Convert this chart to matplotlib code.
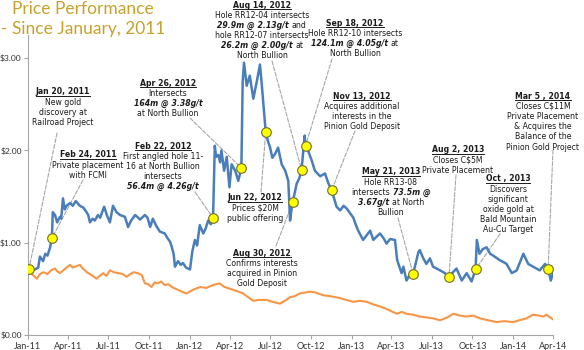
import matplotlib
matplotlib.use("Agg")
import matplotlib.pyplot as plt
import matplotlib.dates as mdates
from matplotlib.transforms import IdentityTransform
from matplotlib.lines import Line2D
import pandas as pd

# share price (blue line)
price_dates = [
    "2011-01-03", "2011-01-17", "2011-01-24", "2011-01-28", "2011-02-04", "2011-02-09", "2011-02-14",
    "2011-02-20", "2011-02-24", "2011-02-26", "2011-03-03", "2011-03-08", "2011-03-14", "2011-03-17",
    "2011-03-21", "2011-03-25", "2011-03-29", "2011-04-06", "2011-04-12", "2011-04-19", "2011-04-28",
    "2011-05-06", "2011-05-12", "2011-05-17", "2011-05-21", "2011-05-27", "2011-06-01", "2011-06-08",
    "2011-06-13", "2011-06-22", "2011-06-28", "2011-07-05", "2011-07-12", "2011-07-20", "2011-07-28",
    "2011-08-08", "2011-08-15", "2011-08-22", "2011-08-31", "2011-09-05", "2011-09-11", "2011-09-22",
    "2011-09-28", "2011-10-04", "2011-10-10", "2011-10-18", "2011-10-26", "2011-11-06", "2011-11-12",
    "2011-11-18", "2011-11-22", "2011-11-26", "2011-11-29", "2011-12-06", "2011-12-12", "2011-12-17",
    "2011-12-24", "2012-01-02", "2012-01-07", "2012-01-13", "2012-01-18", "2012-01-24", "2012-02-01",
    "2012-02-06", "2012-02-12", "2012-02-18", "2012-02-23", "2012-02-27", "2012-03-01", "2012-03-06",
    "2012-03-10", "2012-03-13", "2012-03-19", "2012-03-25", "2012-03-31", "2012-04-05", "2012-04-13",
    "2012-04-20", "2012-04-27", "2012-04-30", "2012-05-03", "2012-05-09", "2012-05-16", "2012-05-24",
    "2012-06-01", "2012-06-08", "2012-06-12", "2012-06-21", "2012-06-26", "2012-07-01", "2012-07-06",
    "2012-07-12", "2012-07-19", "2012-07-27", "2012-08-04", "2012-08-11", "2012-08-15", "2012-08-18",
    "2012-08-21", "2012-08-30", "2012-09-05", "2012-09-10", "2012-09-17", "2012-09-19", "2012-09-26",
    "2012-10-03", "2012-10-10", "2012-10-22", "2012-11-02", "2012-11-09", "2012-11-17", "2012-11-28",
    "2012-12-06", "2012-12-14", "2012-12-21", "2013-01-05", "2013-01-10", "2013-01-16", "2013-01-27",
    "2013-02-04", "2013-02-12", "2013-02-19", "2013-03-06", "2013-03-14", "2013-03-21", "2013-03-29",
    "2013-04-09", "2013-04-14", "2013-04-24", "2013-04-28", "2013-05-05", "2013-05-12", "2013-05-20",
    "2013-06-01", "2013-06-04", "2013-06-12", "2013-06-19", "2013-06-27", "2013-07-04", "2013-07-12",
    "2013-07-20", "2013-07-31", "2013-08-09", "2013-08-18", "2013-08-26", "2013-09-07", "2013-09-18",
    "2013-09-29", "2013-10-08", "2013-10-11", "2013-10-17", "2013-10-24", "2013-11-02", "2013-11-10",
    "2013-11-17", "2013-12-02", "2013-12-10", "2013-12-17", "2013-12-29", "2014-01-09", "2014-01-24",
    "2014-02-04", "2014-02-15", "2014-03-02", "2014-03-14", "2014-03-21", "2014-03-27", "2014-04-01",
]
price_vals = [
    0.71, 0.71, 0.73, 0.85, 0.80, 0.88, 0.86,
    0.95, 1.05, 1.33, 1.30, 1.22, 1.28, 1.26,
    1.48, 1.36, 1.40, 1.43, 1.40, 1.45, 1.40,
    1.38, 1.34, 1.30, 1.22, 1.26, 1.24, 1.30,
    1.27, 1.39, 1.30, 1.22, 1.40, 1.33, 1.30,
    1.28, 1.17, 1.24, 1.30, 1.28, 1.25, 1.30,
    1.27, 1.17, 1.26, 1.18, 1.12, 1.10, 1.05,
    1.01, 0.95, 0.88, 0.74, 0.80, 0.76, 0.78,
    0.73, 0.71, 0.90, 1.03, 0.97, 1.19, 1.10,
    1.15, 1.24, 1.20, 1.27, 2.05, 1.93, 1.95,
    1.87, 2.00, 1.78, 1.93, 1.60, 1.85, 1.78,
    1.67, 1.81, 2.75, 2.95, 2.70, 2.81, 2.56,
    2.75, 2.93, 2.72, 2.20, 2.10, 2.03, 1.92,
    1.96, 2.03, 1.85, 1.78, 1.67, 1.24, 1.35,
    1.44, 1.64, 1.70, 1.79, 2.16, 2.05, 1.98,
    1.89, 1.78, 1.72, 1.75, 1.65, 1.57, 1.39,
    1.35, 1.40, 1.37, 1.27, 1.20, 1.13, 1.03,
    1.08, 1.13, 1.03, 1.10, 1.05, 0.99, 1.04,
    1.03, 0.81, 0.67, 0.74, 0.59, 0.65, 0.66,
    0.90, 0.92, 0.83, 0.77, 0.83, 0.74, 0.72,
    0.70, 0.67, 0.63, 0.68, 0.72, 0.59, 0.67,
    0.58, 0.71, 1.03, 0.88, 0.93, 0.95, 0.88,
    0.86, 0.81, 0.79, 0.77, 0.67, 0.70, 0.88,
    0.77, 0.74, 0.70, 0.77, 0.72, 0.59, 0.67,
]

# comparison index (orange line)
index_dates = [
    "2011-01-03", "2011-01-10", "2011-01-21", "2011-01-28", "2011-02-05", "2011-02-14", "2011-02-22",
    "2011-03-03", "2011-03-08", "2011-03-14", "2011-03-24", "2011-04-06", "2011-04-12", "2011-04-17",
    "2011-04-28", "2011-05-05", "2011-05-14", "2011-05-24", "2011-06-05", "2011-06-12", "2011-06-20",
    "2011-06-27", "2011-07-05", "2011-07-14", "2011-07-24", "2011-08-03", "2011-08-12", "2011-08-20",
    "2011-08-27", "2011-09-06", "2011-09-15", "2011-09-22", "2011-09-30", "2011-10-07", "2011-10-14",
    "2011-10-22", "2011-10-29", "2011-11-06", "2011-11-14", "2011-11-22", "2011-12-01", "2011-12-14",
    "2011-12-25", "2012-01-09", "2012-01-25", "2012-02-08", "2012-02-22", "2012-03-08", "2012-03-20",
    "2012-04-08", "2012-04-20", "2012-05-01", "2012-05-12", "2012-05-24", "2012-06-05", "2012-06-23",
    "2012-07-06", "2012-07-23", "2012-08-03", "2012-08-15", "2012-08-25", "2012-09-06", "2012-09-18",
    "2012-09-29", "2012-10-12", "2012-10-29", "2012-11-15", "2012-12-06", "2012-12-20", "2013-01-05",
    "2013-01-20", "2013-02-04", "2013-02-20", "2013-03-06", "2013-03-22", "2013-04-13", "2013-04-25",
    "2013-05-05", "2013-05-20", "2013-06-04", "2013-06-20", "2013-07-04", "2013-07-20", "2013-08-05",
    "2013-08-19", "2013-09-03", "2013-09-18", "2013-10-03", "2013-10-18", "2013-11-05", "2013-11-25",
    "2013-12-12", "2014-01-01", "2014-01-15", "2014-01-31", "2014-02-15", "2014-02-28", "2014-03-10",
    "2014-03-17", "2014-04-01",
]
index_vals = [
    0.71, 0.66, 0.61, 0.66, 0.68, 0.66, 0.70,
    0.72, 0.69, 0.67, 0.71, 0.76, 0.73, 0.74,
    0.76, 0.72, 0.68, 0.65, 0.61, 0.64, 0.67,
    0.64, 0.70, 0.68, 0.67, 0.66, 0.63, 0.66,
    0.68, 0.67, 0.65, 0.56, 0.55, 0.52, 0.57,
    0.56, 0.58, 0.54, 0.55, 0.52, 0.50, 0.47,
    0.45, 0.49, 0.52, 0.51, 0.54, 0.56, 0.52,
    0.49, 0.47, 0.45, 0.41, 0.37, 0.38, 0.38,
    0.36, 0.34, 0.37, 0.41, 0.42, 0.45, 0.46,
    0.47, 0.46, 0.43, 0.42, 0.40, 0.38, 0.36,
    0.37, 0.36, 0.33, 0.31, 0.28, 0.23, 0.25,
    0.23, 0.22, 0.20, 0.19, 0.18, 0.16, 0.19,
    0.23, 0.21, 0.20, 0.21, 0.18, 0.16, 0.14,
    0.15, 0.14, 0.16, 0.18, 0.22, 0.21, 0.20,
    0.22, 0.17,
]

# news events: where the yellow dots sit on the price line
event_dates = ["2011-01-03", "2011-02-24", "2012-02-23", "2012-04-27", "2012-06-21", "2012-09-10",
               "2012-08-21", "2012-09-19", "2012-11-17", "2013-05-20", "2013-08-09", "2013-10-08",
               "2014-03-21"]
event_vals = [0.71, 1.05, 1.27, 1.81, 2.20, 1.79, 1.44, 2.05, 1.57, 0.66, 0.63, 0.71, 0.72]

y_ticks = [0, 1, 2, 3]

W, H = 584, 350
fig = plt.figure(figsize=(W / 100, H / 100), dpi=100)
ax = fig.add_axes([28 / W, 15 / H, 525 / W, 300 / H])

ax.plot(pd.to_datetime(index_dates), index_vals, color='#F79646', lw=1.5, zorder=2)
ax.plot(pd.to_datetime(price_dates), price_vals, color='#4A7EBB', lw=1.8, zorder=3)
ax.scatter(pd.to_datetime(event_dates), event_vals, s=48, color='#FFFF00',
           edgecolor='#6E6E30', linewidth=0.8, zorder=5)

ax.set_xlim(pd.Timestamp("2011-01-01"), pd.Timestamp("2014-04-01"))
ax.set_ylim(0, 3.25)
ax.set_xticks(pd.date_range("2011-01-01", "2014-04-01", freq="3MS"))
ax.xaxis.set_major_formatter(mdates.DateFormatter("%b-%y"))
ax.set_yticks(y_ticks)
ax.yaxis.set_major_formatter(plt.FuncFormatter(lambda v, p: r"\$%.2f" % v))
for s in ['top', 'right']:
    ax.spines[s].set_visible(False)
for s in ['left', 'bottom']:
    ax.spines[s].set_color('#A6A6A6')
ax.tick_params(colors='#A6A6A6', length=3, width=0.8, labelcolor='#333333', labelsize=6.5, pad=2)
ax.tick_params(axis='y', labelsize=6.1, pad=1.5)
for lab in ax.get_xticklabels() + ax.get_yticklabels():
    lab.set_family('Lato')

# title
gold = '#C6A22C'
ident = IdentityTransform()
fig.text(12, H - 9, "Price Performance", transform=ident, ha='left', va='center',
         fontsize=12.5, family='Lato', color=gold)
fig.text(1, H - 29, "- Since January, 2011", transform=ident, ha='left', va='center',
         fontsize=12.5, family='Lato', color=gold)

# annotation blocks: centre x, header y (pixels from top), header, lines, leader start, event
blocks = [
    (63, 92, "Jan 20, 2011", [["New gold"], ["discovery at"], ["Railroad Project"]], (57, 133), 0),
    (88, 155, "Feb 24, 2011", [["Private placement"], ["with FCMI"]], (83, 180), 1),
    (163, 146, "Feb 22, 2012", [["First angled hole 11-"], ["16 at North Bullion"], ["intersects"],
                                [("56.4m @ 4.26g/t", 'bi')]], (195, 192), 2),
    (168, 83, "Apr 26, 2012", [["Intersects"], [("164m @ 3.38g/t", 'bi')], ["at North Bullion"]],
     (190, 118), 3),
    (255, 198, "Jun 22, 2012", [["Prices \\$20M"], ["public offering"]], (261, 192), 4),
    (262, 5, "Aug 14, 2012", [["Hole RR12-04 intersects"], [("29.9m @ 2.13g/t", 'bi'), "and"],
                              ["hole RR12-07 intersects"], [("26.2m @ 2.00g/t", 'bi'), "at"],
                              ["North Bullion"]], (272, 61), 5),
    (262, 253, "Aug 30, 2012", [["Confirms interests"], ["acquired in Pinion"], ["Gold Deposit"]],
     (276, 246), 6),
    (355, 23, "Sep 18, 2012", [["Hole RR12-10 intersects"], [("124.1m @ 4.05g/t", 'bi'), "at"],
                               ["North Bullion"]], (332, 59), 7),
    (362, 96, "Nov 13, 2012", [["Acquires additional"], ["interests in the"], ["Pinion Gold Deposit"]],
     (355, 131), 8),
    (391, 172, "May 21, 2013", [["Hole RR13-08"], ["intersects", ("73.5m @", 'bi')],
                                [("3.67g/t", 'bi'), "at North"], ["Bullion"]], (398, 218), 9),
    (458, 150, "Aug 2, 2013", [["Closes C\\$5M"], ["Private Placement"]], (456, 175), 10),
    (508, 179, "Oct , 2013", [["Discovers"], ["significant"], ["oxide gold at"], ["Bald Mountain"],
                              ["Au-Cu Target"]], (500, 234), 11),
    (543, 96, "Mar 5 , 2014", [["Closes C\\$11M"], ["Private Placement"], ["& Acquires the"],
                               ["Balance of the"], ["Pinion Gold Project"]], (553, 150), 12),
]

fig.canvas.draw()
rend = fig.canvas.get_renderer()
base = dict(fontsize=5.6, family='DejaVu Sans', color='#1A1A1A')


def txt_width(s, **kw):
    t = fig.text(0, 0, s, transform=ident, **kw)
    w = t.get_window_extent(rend).width
    t.remove()
    return w


gap = txt_width("a a", **base) - txt_width("aa", **base)
step = 10.2

for cx, ytop, head, lines, (lx, ly), ev in blocks:
    h = fig.text(cx, H - ytop - 2.5, head, transform=ident, ha='center', va='baseline',
                 fontweight='bold', **base)
    bb = h.get_window_extent(rend)
    fig.add_artist(Line2D([bb.x0, bb.x1], [H - ytop - 3.8, H - ytop - 3.8], transform=ident,
                          color='#1A1A1A', lw=0.7))
    for i, parts in enumerate(lines):
        y = H - ytop - 2.5 - step * (i + 1)
        items = []
        for p in parts:
            s, k = p if isinstance(p, tuple) else (p, 'n')
            kw = dict(base)
            if k == 'bi':
                kw.update(fontweight='bold', fontstyle='italic')
            items.append((s, kw, txt_width(s, **kw)))
        total = sum(w for _, _, w in items) + gap * (len(items) - 1)
        x = cx - total / 2
        for s, kw, w in items:
            fig.text(x, y, s, transform=ident, ha='left', va='baseline', **kw)
            x += w + gap
    # dashed leader line from the text to the event dot
    ax.annotate("", xy=(mdates.date2num(pd.Timestamp(event_dates[ev])), event_vals[ev]),
                xycoords='data', xytext=(lx, H - ly), textcoords='figure pixels',
                arrowprops=dict(arrowstyle='-', linestyle='--', color='#A6A6A6', lw=0.8,
                                shrinkA=0, shrinkB=0), zorder=1, annotation_clip=False)

fig.savefig("out.png", dpi=100)
